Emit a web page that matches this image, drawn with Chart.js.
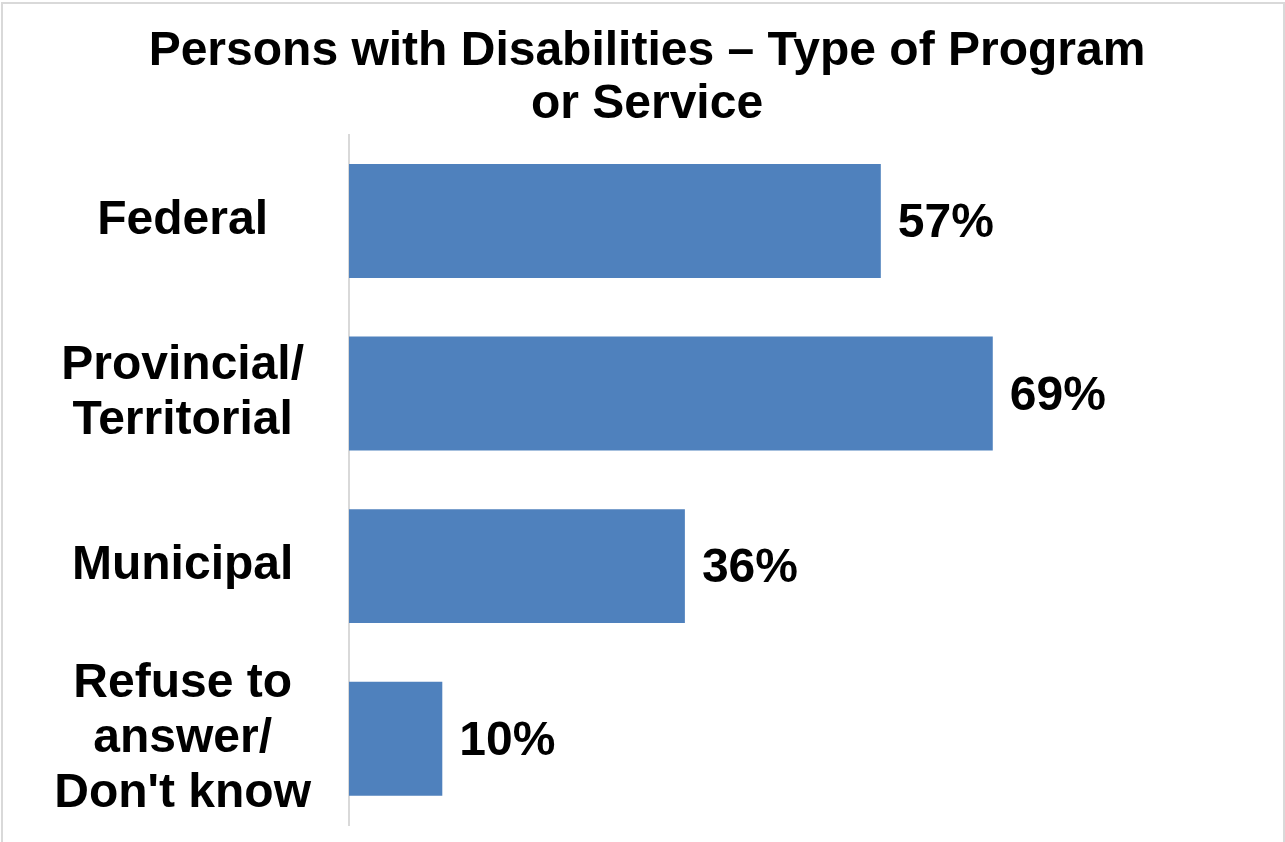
<!DOCTYPE html>
<html>
<head>
<meta charset="utf-8">
<title>Persons with Disabilities – Type of Program or Service</title>
<script src="https://cdn.jsdelivr.net/npm/chart.js@4/dist/chart.umd.min.js"></script>
<style>
  html, body { margin: 0; padding: 0; background: #fff; overflow: hidden; }
  #wrap { position: relative; width: 1285px; height: 842px; }
  #grafico { position: absolute; left: 0; top: 0; }
  #moldura { position: absolute; left: 1px; top: 2px; width: 1280px; height: 900px;
             border: 2px solid #d9d9d9; pointer-events: none; }
</style>
</head>
<body>
<div id="wrap">
  <canvas id="grafico" width="1285" height="842"></canvas>
  <div id="moldura"></div>
</div>
<script>
// dados do gráfico
const titulo = ['Persons with Disabilities \u2013 Type of Program', 'or Service'];
const categorias = [
    'Federal',
    ['Provincial/', 'Territorial'],
    'Municipal',
    ['Refuse to', 'answer/', "Don't know"]
];
const valores = [57, 69, 36, 10];

const fonte = '"Liberation Sans", Arial, sans-serif';
const corBarra = '#4f81bd';

// rótulos de valor no fim de cada barra
const rotulosValor = {
    id: 'rotulosValor',
    afterDatasetsDraw(chart) {
        const ctx = chart.ctx;
        const meta = chart.getDatasetMeta(0);
        ctx.save();
        ctx.font = 'bold 48px ' + fonte;
        ctx.fillStyle = '#000';
        ctx.textAlign = 'left';
        ctx.textBaseline = 'middle';
        meta.data.forEach((barra, i) => {
            ctx.fillText(valores[i] + '%', barra.x + 17, barra.y + 3);
        });
        ctx.restore();
    }
};

const contexto = document.getElementById('grafico').getContext('2d');
new Chart(contexto, {
    type: 'bar',
    data: {
        labels: categorias,
        datasets: [{
            data: valores,
            backgroundColor: corBarra,
            borderWidth: 0,
            categoryPercentage: 1,
            barPercentage: 0.66
        }]
    },
    options: {
        indexAxis: 'y',
        responsive: false,
        animation: false,
        layout: { padding: { left: 12, right: 3, top: 0, bottom: 17 } },
        plugins: {
            legend: { display: false },
            tooltip: { enabled: false },
            title: {
                display: true,
                text: titulo,
                color: '#000',
                font: { family: fonte, size: 48, weight: 'bold', lineHeight: 1.09 },
                padding: { top: 26, bottom: 4 }
            }
        },
        scales: {
            x: {
                display: false,
                min: 0,
                max: 100
            },
            y: {
                grid: { display: false, drawTicks: false },
                border: { display: true, color: '#d9d9d9', width: 2 },
                ticks: {
                    color: '#000',
                    crossAlign: 'center',
                    padding: 38,
                    font: { family: fonte, size: 48, weight: 'bold', lineHeight: 1.15 }
                },
                afterFit(scale) {
                    scale.width = 337;
                    scale.paddingTop = 0;
                    scale.paddingBottom = 0;
                }
            }
        }
    },
    plugins: [rotulosValor]
});
</script>
</body>
</html>
